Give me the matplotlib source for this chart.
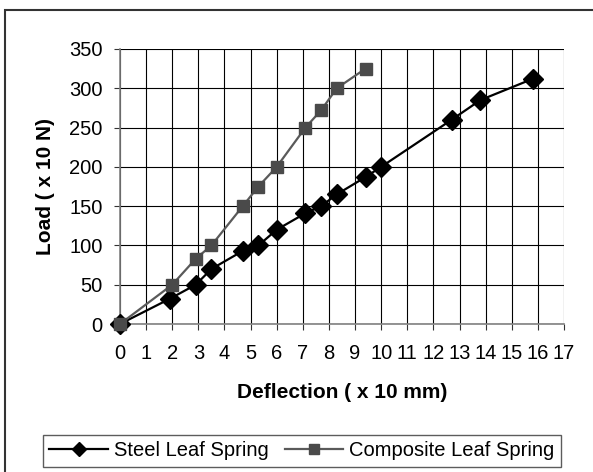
import matplotlib
matplotlib.use("Agg")
import matplotlib.pyplot as plt
from matplotlib.patches import Rectangle

steel_x = [0, 1.9, 2.9, 3.5, 4.7, 5.3, 6.0, 7.1, 7.7, 8.3, 9.4, 10.0, 12.7, 13.8, 15.8]
steel_y = [0, 32, 50, 70, 93, 100, 120, 141, 150, 165, 187, 200, 260, 285, 312]
comp_x = [0, 2.0, 2.9, 3.5, 4.7, 5.3, 6.0, 7.1, 7.7, 8.3, 9.4]
comp_y = [0, 50, 83, 100, 150, 175, 200, 250, 272, 300, 325]
x_ticks = list(range(0, 18))
y_ticks = list(range(0, 351, 50))

plt.rcParams['font.family'] = ['Liberation Sans', 'DejaVu Sans']

fig = plt.figure(figsize=(5.93, 4.72), dpi=100)
ax = fig.add_axes([120/593, 1-324/472, 444/593, 275/472])

ax.plot(steel_x, steel_y, color='black', lw=1.6, marker='D', ms=10,
        mfc='black', mec='black', label='Steel Leaf Spring', zorder=4, clip_on=False)
ax.plot(comp_x, comp_y, color='#5a5a5a', lw=1.6, marker='s', ms=9,
        mfc='#4a4a4a', mec='#4a4a4a', label='Composite Leaf Spring', zorder=5, clip_on=False)

ax.set_xlim(0, 17)
ax.set_ylim(0, 350)
ax.set_xticks(x_ticks)
ax.set_yticks(y_ticks)
ax.set_xticklabels([str(v) for v in x_ticks], fontsize=14.5)
ax.set_yticklabels([str(v) for v in y_ticks], fontsize=14.5)
ax.grid(True, color='black', lw=0.8)
ax.set_axisbelow(True)
for s in ['top', 'right']:
    ax.spines[s].set_visible(False)
for s in ['left', 'bottom']:
    ax.spines[s].set_color('#808080')
    ax.spines[s].set_linewidth(1.2)
ax.tick_params(axis='both', direction='out', length=4.5, width=0.8, color='#333333')
ax.tick_params(axis='y', pad=8)
ax.tick_params(axis='x', pad=10)

ax.set_xlabel('Deflection ( x 10 mm)', fontsize=15, fontweight='bold', labelpad=14)
ax.set_ylabel('Load ( x 10 N)', fontsize=15, fontweight='bold', labelpad=10)

leg = fig.legend(loc='center', bbox_to_anchor=(302/593, 1-451/472), ncol=2,
                 fontsize=14.5, frameon=True, fancybox=False, borderpad=0.3,
                 handlelength=2.9, handletextpad=0.3, columnspacing=0.8,
                 markerscale=0.75)
leg.get_frame().set_edgecolor('#333333')
leg.get_frame().set_linewidth(1.0)

fig.add_artist(Rectangle((5/593, -0.1), 1.2, (1-10/472)+0.1, transform=fig.transFigure,
                         fill=False, edgecolor='#333333', lw=1.5))

fig.savefig('out.png', dpi=100)
